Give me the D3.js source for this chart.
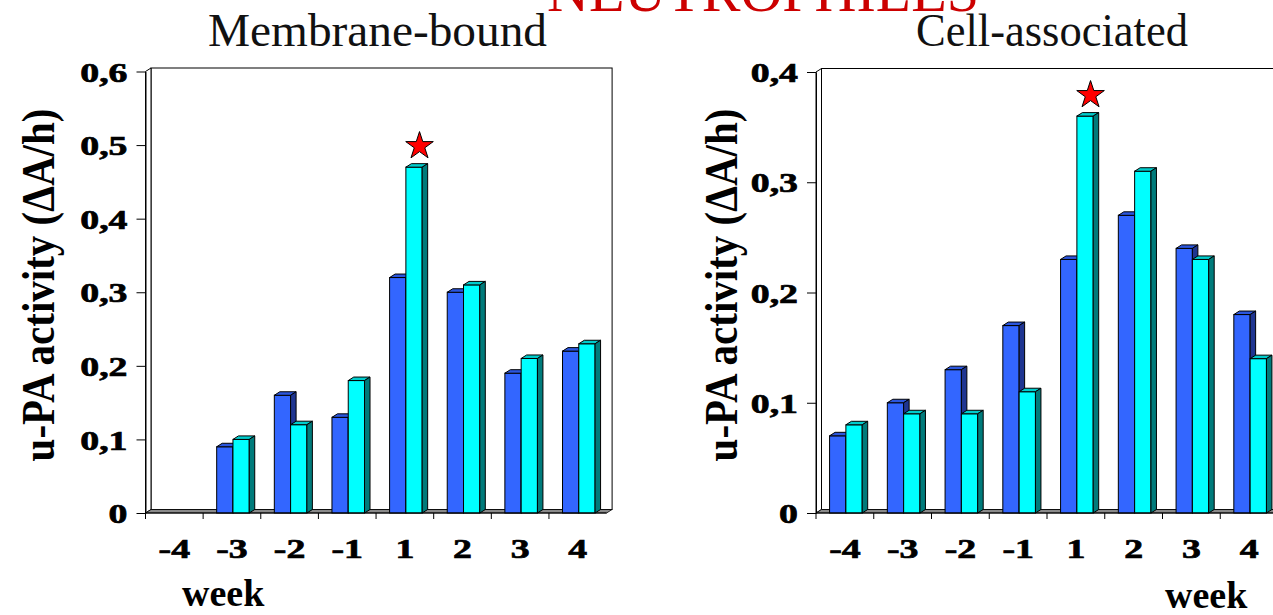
<!DOCTYPE html>
<html>
<head>
<meta charset="utf-8">
<script src="https://cdn.jsdelivr.net/npm/d3@7"></script>
<style>
  html, body { margin: 0; padding: 0; background: #fff; overflow: hidden; }
  text { font-family: "Liberation Serif", "Times New Roman", serif; }
</style>
</head>
<body>
<svg id="chart" width="1273" height="615"></svg>
<script>
// Weeks before / after, shared by both panels
const weeks = ["-4", "-3", "-2", "-1", "1", "2", "3", "4"];

// Membrane-bound u-PA activity (ΔA/h)
const membraneFirst  = [0, 0.09, 0.16, 0.13, 0.32, 0.30, 0.19, 0.22];
const membraneSecond = [0, 0.10, 0.12, 0.18, 0.47, 0.31, 0.21, 0.23];
const membraneTicks  = [0, 0.1, 0.2, 0.3, 0.4, 0.5, 0.6];
const membraneStar   = { week: "1", value: 0.5 };

// Cell-associated u-PA activity (ΔA/h)
const cellFirst  = [0.07, 0.10, 0.13, 0.17, 0.23, 0.27, 0.24, 0.18];
const cellSecond = [0.08, 0.09, 0.09, 0.11, 0.36, 0.31, 0.23, 0.14];
const cellTicks  = [0, 0.1, 0.2, 0.3, 0.4];
const cellStar   = { week: "1", value: 0.38 };

const seriesKeys = ["first", "second"];
const faceColors = {
  first:  { front: "#3366ff", top: "#2b56dd", side: "#1f3591" },
  second: { front: "#00ffff", top: "#00cccc", side: "#007b7b" }
};

const DX = 5.5, DY = -3.5;       // 3-D depth offset
const STRETCH = 1.4;             // horizontal stretch of chart lettering
const fmt = d => d === 0 ? "0" : d3.format(".1f")(d).replace(".", ",");

const svg = d3.select("#chart");

// Slide heading (partly off the top edge)
svg.append("text")
  .attr("x", 547).attr("y", 11)
  .attr("font-size", 58)
  .attr("fill", "#cc0000")
  .attr("textLength", 432).attr("lengthAdjust", "spacingAndGlyphs")
  .text("NEUTROPHILES");

const panels = [
  {
    title: "Membrane-bound", titleX: 208, titleLen: 339,
    first: membraneFirst, second: membraneSecond,
    ticks: membraneTicks, max: 0.6,
    xRange: [145.5, 606.6], yRange: [513, 71.5],
    yTitleX: 54, weekX: 182, weekY: 606,
    star: membraneStar
  },
  {
    title: "Cell-associated", titleX: 916, titleLen: 272,
    first: cellFirst, second: cellSecond,
    ticks: cellTicks, max: 0.4,
    xRange: [816, 1278], yRange: [513, 72],
    yTitleX: 737, weekX: 1165, weekY: 608,
    star: cellStar
  }
];

panels.forEach(drawPanel);

function drawPanel(p) {
  const g = svg.append("g");
  const x0 = d3.scaleBand().domain(weeks).range(p.xRange);
  const bw = x0.bandwidth();
  const x1 = d3.scaleBand().domain(seriesKeys).range([bw * 0.235, bw * 0.235 + bw * 0.565]);
  const y = d3.scaleLinear().domain([0, p.max]).range(p.yRange);
  const [xa, xb] = p.xRange;
  const yb = y(0), yt = y(p.max);

  // Panel title
  svg.append("text")
    .attr("x", p.titleX).attr("y", 46)
    .attr("font-size", 47)
    .attr("fill", "#111")
    .attr("textLength", p.titleLen).attr("lengthAdjust", "spacingAndGlyphs")
    .text(p.title);

  // Back wall, side wall and floor of the 3-D box
  g.append("rect")
    .attr("x", xa + DX).attr("y", yt + DY)
    .attr("width", xb - xa).attr("height", yb - yt)
    .attr("fill", "#fff").attr("stroke", "#000").attr("stroke-width", 1);
  g.append("path")
    .attr("d", `M${xa},${yb}V${yt}L${xa + DX},${yt + DY}V${yb + DY}Z`)
    .attr("fill", "#fff").attr("stroke", "#000").attr("stroke-width", 1);
  g.append("path")
    .attr("d", `M${xa},${yb}H${xb}L${xb + DX},${yb + DY}H${xa + DX}Z`)
    .attr("fill", "#8a8a8a").attr("stroke", "#000").attr("stroke-width", 0.8);

  // Bars
  const rows = weeks.map((w, i) => ({ week: w, first: p.first[i], second: p.second[i] }));
  const groups = g.selectAll("g.week").data(rows).join("g")
    .attr("class", "week")
    .attr("transform", d => `translate(${x0(d.week)},0)`);

  seriesKeys.forEach(key => {
    const c = faceColors[key];
    const bars = groups.filter(d => d[key] > 0).append("g");
    const bx = x1(key), w = x1.bandwidth();
    bars.append("rect")
      .attr("x", bx).attr("y", d => y(d[key]))
      .attr("width", w).attr("height", d => yb - y(d[key]))
      .attr("fill", c.front).attr("stroke", "#000").attr("stroke-width", 1);
    bars.append("path")
      .attr("d", d => {
        const top = y(d[key]);
        return `M${bx},${top}L${bx + DX},${top + DY}H${bx + w + DX}L${bx + w},${top}Z`;
      })
      .attr("fill", c.top).attr("stroke", "#000").attr("stroke-width", 1);
    bars.append("path")
      .attr("d", d => {
        const top = y(d[key]);
        return `M${bx + w},${top}L${bx + w + DX},${top + DY}V${yb + DY}L${bx + w},${yb}Z`;
      })
      .attr("fill", c.side).attr("stroke", "#000").attr("stroke-width", 1);
  });

  // Y axis
  const yAxis = g.append("g")
    .attr("transform", `translate(${xa},0)`)
    .call(d3.axisLeft(y).tickValues(p.ticks).tickSize(9).tickSizeOuter(0).tickFormat(fmt));
  yAxis.select(".domain").attr("stroke", "#000");
  yAxis.selectAll(".tick line").attr("stroke", "#000");
  yAxis.selectAll(".tick text")
    .attr("x", null).attr("dy", "0.36em")
    .attr("transform", `translate(-18,0) scale(${STRETCH},1)`)
    .attr("text-anchor", "end")
    .attr("font-weight", "bold").attr("font-size", 27).attr("fill", "#000")
    .attr("stroke", "#000").attr("stroke-width", 0.7);

  // X axis: baseline, boundary ticks and week labels
  g.append("line")
    .attr("x1", xa).attr("x2", xb).attr("y1", yb).attr("y2", yb)
    .attr("stroke", "#000");
  g.selectAll("line.xtick").data(weeks).join("line")
    .attr("class", "xtick")
    .attr("x1", d => x0(d)).attr("x2", d => x0(d))
    .attr("y1", yb).attr("y2", yb + 6)
    .attr("stroke", "#000");
  g.selectAll("text.xlabel").data(weeks).join("text")
    .attr("class", "xlabel")
    .attr("transform", d => `translate(${x0(d) + bw / 2},558) scale(${STRETCH},1)`)
    .attr("text-anchor", "middle")
    .attr("font-weight", "bold").attr("font-size", 27)
    .attr("stroke", "#000").attr("stroke-width", 0.7)
    .text(d => d);

  // Axis titles
  svg.append("text")
    .attr("transform", `translate(${p.yTitleX},285) scale(1.15,1) rotate(-90)`)
    .attr("text-anchor", "middle")
    .attr("font-weight", "bold").attr("font-size", 41)
    .text("u-PA activity (ΔA/h)");
  svg.append("text")
    .attr("x", p.weekX).attr("y", p.weekY)
    .attr("font-weight", "bold").attr("font-size", 38)
    .text("week");

  // Significance star above the second bar
  const sx = x0(p.star.week) + x1("second") + x1.bandwidth() / 2 + DX;
  g.append("path")
    .attr("d", d3.symbol(d3.symbolStar, 236)())
    .attr("transform", `translate(${sx},${y(p.star.value) + 1})`)
    .attr("fill", "#ff0000").attr("stroke", "#000").attr("stroke-width", 1);
}
</script>
</body>
</html>
